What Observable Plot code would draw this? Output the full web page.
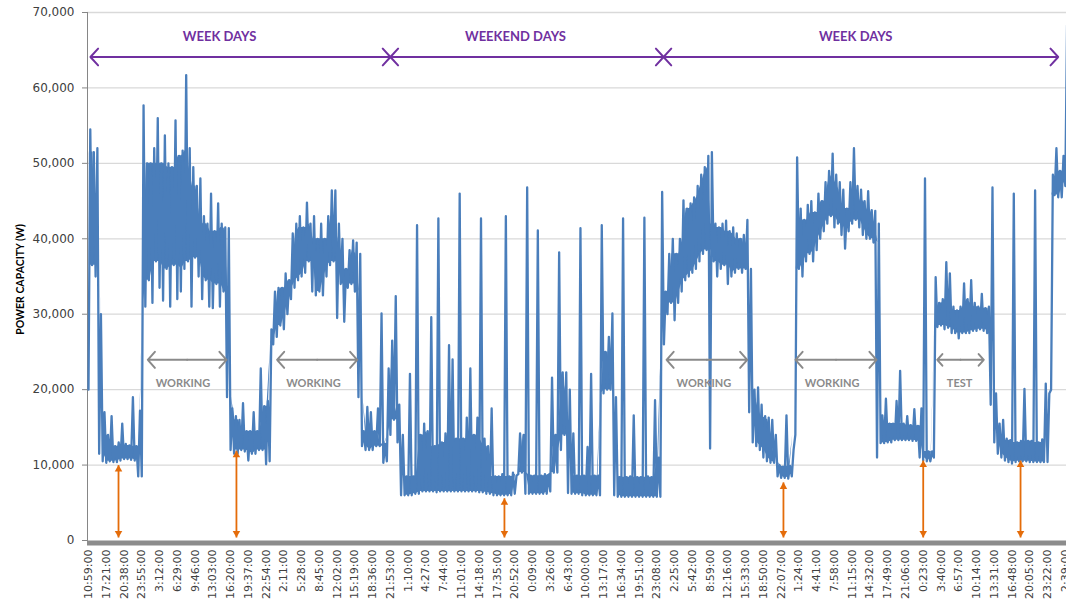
<!DOCTYPE html>
<html><head><meta charset="utf-8">
<script src="https://cdn.jsdelivr.net/npm/d3@7"></script>
<script src="https://cdn.jsdelivr.net/npm/@observablehq/plot@0.6"></script>
<style>
body{margin:0;background:#fff;}
#chart{width:1066px;height:606px;overflow:hidden;}
</style>
</head><body><div id="chart"></div>
<script>
// Category tick labels (time of day), one per tick
const timeLabels = ["10:59:00","17:21:00","20:38:00","23:55:00","3:12:00","6:29:00","9:46:00","13:03:00","16:20:00","19:37:00","22:54:00","2:11:00","5:28:00","8:45:00","12:02:00","15:19:00","18:36:00","21:53:00","1:10:00","4:27:00","7:44:00","11:01:00","14:18:00","17:35:00","20:52:00","0:09:00","3:26:00","6:43:00","10:00:00","13:17:00","16:34:00","19:51:00","23:08:00","2:25:00","5:42:00","8:59:00","12:16:00","15:33:00","18:50:00","22:07:00","1:24:00","4:41:00","7:58:00","11:15:00","14:32:00","17:49:00","21:06:00","0:23:00","3:40:00","6:57:00","10:14:00","13:31:00","16:48:00","20:05:00","23:22:00","2:39:00"];

// Samples per tick label interval
const samplesPerTick = 5;
// Power readings (thousands of W): low and high reading within each sample
const lowKW = [20,36.5,35,11.5,10.5,10.3,10.5,10.4,10.4,10.6,10.8,10.8,10.7,10.6,8.5,8.5,31,34.5,31.5,37,33.5,31.8,36,31,36.5,32,33,36,37,31,37.5,35,32,34.5,31,30.8,34,31,33,19,12,11.5,11.5,12,11.8,10.6,11.5,11.5,12,12,10.1,10.5,26,27,28.5,28,30,32,33.5,34.5,35,35.5,37,33,32.5,33,32.5,35,36.5,37,29.5,34,29,33.5,34,33,19,12.5,12,12,12,12.5,12.5,10.3,10.5,14,16,13,6,6,6,6,6.2,6.2,6.5,6.5,6.5,6.5,6.4,6.5,6.5,6.5,6.5,6.5,6.5,6.5,6.5,6.5,6.5,6.5,6.4,6.4,6.2,6.2,6,6,6,6,6,6,6.2,8.8,9,6.2,6.2,6.2,6.2,6.2,6.2,6.2,6.5,9,9,12,14,6.3,6.2,6.2,6.2,6,6,6,6,6,6,19.5,20,20,6,5.8,5.8,5.8,5.8,5.8,5.8,5.8,5.8,5.8,5.8,5.8,5.8,5.8,26,30,31.5,29.2,31.5,33,34.5,35,35.5,36,37,38,38.5,12.2,37,35,36,36.5,34,35,35.5,36,35.5,36,17,13,12.5,12,11,10.5,10.3,10.3,8.5,8.3,8.3,8.2,8.5,14,36,35,37,38,37,38.5,40,41,42,43,41.5,42,40.5,38.7,41,42,42.5,41.5,40.5,40,40,39.5,11,12.9,12.9,13,13,13.3,13.3,13.3,13.3,13.3,13.2,13.2,11,10.6,10.5,10.5,11,28.3,28.5,28,28.2,27.5,27.5,26.8,27.5,27.5,27.5,27.8,27.8,28,27.8,27.5,18,13,11.5,11,10.6,10.4,10.2,10.4,10.5,10.5,10.5,10.4,10.4,10.4,10.4,10.4,10.4,20,45.8,45.5,45.5,47,48];
const highKW = [54.5,51.5,52,30,17,14,16.5,12.5,13,15.5,12.8,12.6,19,12.5,17.2,57.7,50,50,52,56,50,53.7,50,49.5,55.7,51,51.7,61.7,52,49.5,47,48,43,42,46,41,44.7,42,41.5,41.4,17.5,16.5,16,18.2,14.5,14.5,17,14.5,22.8,17.8,18.5,28,33,33.5,33.5,35.4,34.5,40.7,42,43,41.5,44.8,42,43,40,42,40,43,46.4,46.4,42,40,36,38.5,39.8,39.5,38,14.5,17.7,17,14.5,17.5,30.1,12.8,22.8,26.5,32.4,18,14,8.5,22.1,8.5,41.8,14,15.5,14.5,29.6,12.5,42.7,13,14.2,25.9,24,13.5,46,13.5,16.3,22.8,14,16.3,42.7,13.5,12.5,17.5,8.5,8.5,8.8,43,8.5,9,8.6,14.2,14,46.8,8.6,8.6,41.1,8.6,8.8,8.7,21.6,14,38.2,22.3,22.3,20,14.2,8.6,41.4,8.6,12.4,22.1,8.6,8.6,41.8,25,27,30.1,19,8.4,42.7,8.4,8.5,16.6,8.4,8.4,42.8,8.5,8.4,18.6,11,46.2,33,38,40,38,40,45.1,44,44.7,45.5,47,48.5,49.5,51,51.5,42,41.5,42,42.4,41,41.5,40.7,40,40.5,42.5,36,20,20.3,18,16.5,16.3,16,14,10,9.8,16.6,9.9,12,50.8,44,42.5,44.5,45,43.5,46,45,47.5,49,51.3,48.5,47.5,46.5,44,47.5,52,47,46.5,45,46.3,43.8,43.7,42,16.6,18.8,15.5,15.5,18.5,22.5,15.5,16.5,15.3,17.4,15.2,17.5,48,11.8,11.8,34.9,31.5,32,36.9,35.4,31,30.5,31,34.1,32,34.5,31.5,31,32.7,30.8,31,46.8,19.5,15.5,16,13.5,13.3,46,13,13.2,20.1,13.2,13.2,46.4,13,13.4,20.8,19.5,48.5,52,49,51,68.3,66];

// Annotations (in tick units and W)
const periodNames = ["WEEK DAYS","WEEKEND DAYS","WEEK DAYS"];
const periodFrom = [0.11, 17.0, 32.38];
const periodTo = [17.0, 32.38, 54.6];
const periodLabelAt = [7.38, 24.04, 43.2];
const periodArrowW = 64100;
const periodLabelW = 66800;

const spanNames = ["WORKING","WORKING","WORKING","WORKING","TEST"];
const spanFrom = [3.34, 10.62, 32.55, 39.81, 47.79];
const spanTo = [7.77, 15.13, 37.09, 44.37, 50.41];
const spanLabelAt = [5.32, 12.67, 34.65, 41.87, 49.05];
const spanArrowW = 23950;
const spanLabelW = 20770;

const baseMarkAt = [1.69, 8.33, 23.42, 39.13, 47.0, 52.48];
const baseMarkTop = [10000, 11900, 5600, 7700, 10600, 10600];
const baseMarkBottom = 400;

// Build series: each sample contributes its low then high reading
const series = [];
lowKW.forEach((lo, k) => {
  series.push({t: k / samplesPerTick, w: lo * 1000});
  series.push({t: (k + 0.5) / samplesPerTick, w: highKW[k] * 1000});
});
// Dense core of the trace (where neighbouring readings overlap), drawn as a band
const core = lowKW.map((lo, k) => {
  const n = lowKW.length - 1;
  const body = Math.min(highKW[Math.max(k - 1, 0)], highKW[k], highKW[Math.min(k + 1, n)]);
  const floor = Math.max(lowKW[Math.max(k - 1, 0)], lo, lowKW[Math.min(k + 1, n)]);
  return {t: (k + 0.25) / samplesPerTick, y1: floor * 1000, y2: Math.max(body, floor) * 1000};
});

const periodHalves = [];
periodNames.forEach((n, i) => {
  const mid = (periodFrom[i] + periodTo[i]) / 2;
  periodHalves.push({a: mid, b: periodFrom[i]});
  periodHalves.push({a: mid, b: periodTo[i]});
});
const periodTexts = periodNames.map((n, i) => ({n, x: periodLabelAt[i]}));

const spanHalves = [];
spanNames.forEach((n, i) => {
  const mid = (spanFrom[i] + spanTo[i]) / 2;
  spanHalves.push({a: mid, b: spanFrom[i]});
  spanHalves.push({a: mid, b: spanTo[i]});
});
const spanTexts = spanNames.map((n, i) => ({n, x: spanLabelAt[i]}));

const baseMarks = baseMarkAt.map((x, i) => ({x, top: baseMarkTop[i], bottom: baseMarkBottom}));

const blue = "#4A7EBB", purple = "#7030A0", gray = "#8A8A8A", orange = "#E46C0A";

const chart = Plot.plot({
  width: 1066, height: 606,
  marginLeft: 87, marginRight: 0, marginTop: 12, marginBottom: 66,
  style: {fontFamily: "DejaVu Sans, Verdana, sans-serif", fontSize: "11px", color: "#404040", background: "#fff"},
  x: {domain: [-1/17.76, 978/17.76], axis: null},
  y: {domain: [0, 70000], axis: null},
  marks: [
    Plot.gridY(d3.range(10000, 70001, 10000), {stroke: "#d9d9d9", strokeOpacity: 1, strokeWidth: 1.3}),
    Plot.axisY(d3.range(0, 70001, 10000), {tickFormat: d3.format(","), tickSize: 5, tickPadding: 8, stroke: "#868686", fill: "#404040", fontSize: 12}),
    Plot.frame({anchor: "left", stroke: "#868686"}),
    Plot.axisX(d3.range(timeLabels.length), {tickFormat: i => timeLabels[i], tickRotate: -90, tickSize: 0, tickPadding: 9, fill: "#404040", fontSize: 11}),
    Plot.areaY(core, {x: "t", y1: "y1", y2: "y2", fill: blue, clip: true}),
    Plot.line(series, {x: "t", y: "w", stroke: blue, strokeWidth: 2.3, clip: true}),
    Plot.ruleY([0], {stroke: "#8C8C8C", strokeWidth: 5, dy: 2.5}),
    // week/weekend brackets
    Plot.arrow(periodHalves, {x1: "a", x2: "b", y1: periodArrowW, y2: periodArrowW, stroke: purple, strokeWidth: 2, headLength: 8.5, headAngle: 95}),
    Plot.text(periodTexts, {x: "x", y: periodLabelW, text: "n", fill: purple, fontFamily: "Lato, sans-serif", fontWeight: "bold", fontSize: 13}),
    // working / test spans
    Plot.arrow(spanHalves, {x1: "a", x2: "b", y1: spanArrowW, y2: spanArrowW, stroke: gray, strokeWidth: 2, headLength: 8, headAngle: 97}),
    Plot.text(spanTexts, {x: "x", y: spanLabelW, text: "n", fill: gray, fontFamily: "Lato, sans-serif", fontWeight: "bold", fontSize: 11}),
    // base-load markers
    Plot.link(baseMarks, {x1: "x", x2: "x", y1: "bottom", y2: "top", stroke: orange, strokeWidth: 1.8}),
    Plot.dot(baseMarks, {x: "x", y: "top", symbol: "triangle", r: 2.8, fill: orange, stroke: "none", dy: 4.3}),
    Plot.dot(baseMarks, {x: "x", y: "bottom", symbol: "triangle", r: 2.8, fill: orange, stroke: "none", dy: -4.3, rotate: 180}),
    // y axis title
    Plot.text(["POWER CAPACITY (W)"], {text: d => d, frameAnchor: "left", textAnchor: "middle", rotate: -90, dx: -67, dy: 3, fill: "#000", fontFamily: "Lato, sans-serif", fontWeight: "bold", fontSize: 10.5})
  ]
});
document.getElementById("chart").appendChild(chart);
</script>
</body></html>
